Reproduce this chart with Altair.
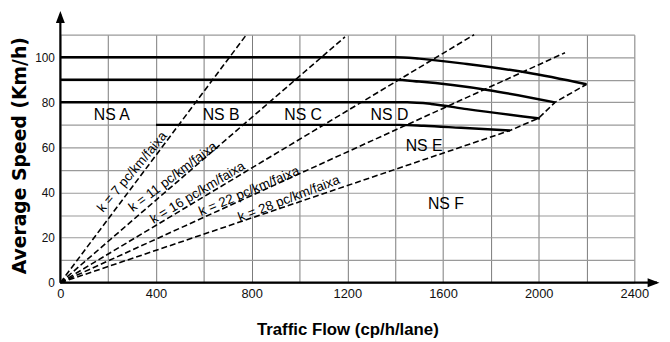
import altair as alt
import pandas as pd

# ---- data ----
# speed-flow curves (free-flow speed km/h)
curve_names = ["100", "90", "80", "70"]
curve_x = [[0, 1400, 1500, 1700, 1950, 2200],
           [0, 1400, 1500, 1786, 2068],
           [0, 1450, 1550, 1700, 2005],
           [400, 1420, 1520, 1675, 1880]]
curve_y = [[100, 100, 99.4, 97, 93.2, 88],
           [90, 90, 89.2, 85.5, 80],
           [80, 80, 79.3, 77, 72.8],
           [70, 70, 69.6, 68.7, 67.5]]

# density lines (dashed)
k_names = ["k7", "k11", "k16", "k22", "k28"]
k_x = [[0, 778], [0, 1190], [0, 1730], [0, 2110], [0, 1880, 2000, 2068, 2200]]
k_y = [[0, 110], [0, 109], [0, 110], [0, 102], [0, 67.5, 73, 80, 88]]

# level of service labels
ns_text = ["NS A", "NS B", "NS C", "NS D", "NS E", "NS F"]
ns_x = [215, 672, 1015, 1376, 1521, 1612]
ns_y = [74.5, 74.5, 74.5, 74.5, 60.5, 35]

# density labels
k_text = ["k = 7 pc/km/faixa", "k = 11 pc/km/faixa", "k = 16 pc/km/faixa",
          "k = 22 pc/km/faixa", "k = 28 pc/km/faixa"]
k_lx = [301, 471, 574, 789, 956]
k_ly = [49.1, 46.9, 39.9, 40.5, 37.2]
k_ang = [310, 323, 329, 337, 339]

x_grid = list(range(0, 2401, 200))
y_grid = list(range(0, 111, 10))

# ---- tables ----
rows = []
for n, xs, ys in zip(curve_names, curve_x, curve_y):
    for i, (a, b) in enumerate(zip(xs, ys)):
        rows.append({"s": n, "o": i, "x": a, "y": b})
curves = pd.DataFrame(rows)

rows = []
for n, xs, ys in zip(k_names, k_x, k_y):
    for i, (a, b) in enumerate(zip(xs, ys)):
        rows.append({"s": n, "o": i, "x": a, "y": b})
klines = pd.DataFrame(rows)

ns_df = pd.DataFrame({"t": ns_text, "x": ns_x, "y": ns_y})
kl_df = pd.DataFrame({"t": k_text, "x": k_lx, "y": k_ly, "a": k_ang})

axes_df = pd.DataFrame({"x": [0, 0], "y": [0, 0], "x2": [2495, 0], "y2": [0, 119]})
arr_x = pd.DataFrame({"x": [2505], "y": [0]})
arr_y = pd.DataFrame({"x": [0], "y": [120.5]})

FONT = "Liberation Sans"

xscale = alt.Scale(domain=[0, 2400], nice=False, zero=True)
yscale = alt.Scale(domain=[0, 110], nice=False, zero=True)

xaxis = alt.Axis(values=x_grid, format="d",
                 labelExpr="datum.value % 400 == 0 ? datum.label : ''",
                 grid=True, gridColor="#7a7a7a", gridWidth=1,
                 domain=False, ticks=False, labelFont=FONT, labelFontSize=13,
                 labelColor="#111", labelPadding=5, labelFlush=False,
                 title="Traffic Flow (cp/h/lane)",
                 titleFont=FONT,
                 titleFontSize=17, titleFontWeight="bold", titleColor="#000",
                 titleY=47, titleBaseline="middle")
yaxis = alt.Axis(values=y_grid, format="d",
                 labelExpr="datum.value % 20 == 0 && datum.value <= 100 ? datum.label : ''",
                 grid=True, gridColor="#9a9a9a", gridWidth=1.2,
                 domain=False, ticks=False, labelFont=FONT, labelFontSize=12,
                 labelColor="#111", labelPadding=6, labelFlush=False,
                 title="Average Speed (Km/h)", titleFont="DejaVu Sans",
                 titleFontSize=19, titleFontWeight="bold", titleColor="#000",
                 titleX=-41.5, titleY=122, titleBaseline="middle")

X = alt.X("x:Q", scale=xscale, axis=xaxis)
Y = alt.Y("y:Q", scale=yscale, axis=yaxis)

curve_layer = alt.Chart(curves).mark_line(
    color="black", strokeWidth=2.5, interpolate="monotone"
).encode(x=X, y=Y, detail="s:N", order="o:Q")

k_layer = alt.Chart(klines).mark_line(
    color="black", strokeWidth=1.6, strokeDash=[6, 3]
).encode(x=X, y=Y, detail="s:N", order="o:Q")

ns_layer = alt.Chart(ns_df).mark_text(
    font=FONT, fontSize=16, color="black", align="center", baseline="middle"
).encode(x=X, y=Y, text="t:N")

kl_layer = alt.Chart(kl_df).mark_text(
    font=FONT, fontSize=13.5, color="black", align="center", baseline="middle"
).encode(x=X, y=Y, text="t:N", angle=alt.Angle("a:Q", scale=None))

axis_lines = alt.Chart(axes_df).mark_rule(color="black", strokeWidth=2.2).encode(
    x=X, y=Y, x2="x2:Q", y2="y2:Q")

arrow_x = alt.Chart(arr_x).mark_point(
    shape="M0,0 L-2,-0.75 L-2,0.75 Z", size=144, filled=True,
    color="black", opacity=1, strokeWidth=0).encode(x=X, y=Y)
arrow_y = alt.Chart(arr_y).mark_point(
    shape="M0,0 L-0.75,2 L0.75,2 Z", size=144, filled=True,
    color="black", opacity=1, strokeWidth=0).encode(x=X, y=Y)

chart = alt.layer(
    k_layer, curve_layer, ns_layer, kl_layer, axis_lines, arrow_x, arrow_y
).properties(
    width=581, height=251,
    autosize=alt.AutoSizeParams(type="none"),
    padding={"left": 53, "top": 25, "right": 28, "bottom": 58},
    background="white",
).configure_view(strokeWidth=0)

chart.save("out.html", embed_options={"renderer": "svg", "actions": False})
